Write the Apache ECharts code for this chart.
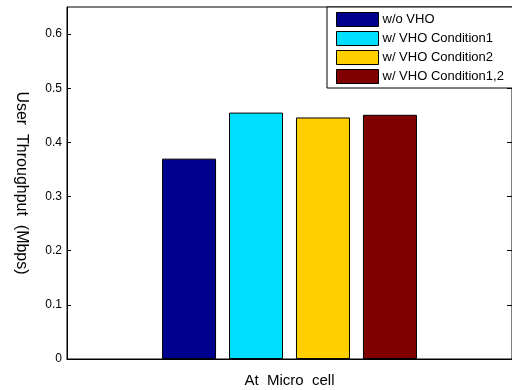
<!DOCTYPE html>
<html>
<head>
<meta charset="utf-8">
<script src="https://cdn.jsdelivr.net/npm/echarts@6/dist/echarts.min.js"></script>
<style>html,body{margin:0;padding:0;background:#fff;}#c{width:512px;height:390px;}</style>
</head>
<body>
<div id="c"></div>
<script>
const categories = ['At  Micro  cell'];
const seriesNames = ['w/o VHO', 'w/ VHO Condition1', 'w/ VHO Condition2', 'w/ VHO Condition1,2'];
const seriesColors = ['#00008f', '#00dfff', '#ffcf00', '#800000'];
const woVHO = [0.37];
const cond1 = [0.455];
const cond2 = [0.446];
const cond12 = [0.451];
const seriesValues = [woVHO, cond1, cond2, cond12];
const yTicks = {min: 0, max: 0.65, interval: 0.1};

const font = 'Liberation Sans, Arial, Helvetica, sans-serif';
const chart = echarts.init(document.getElementById('c'), null, {renderer: 'canvas'});
chart.setOption({
  animation: false,
  backgroundColor: '#fff',
  grid: {left: 67, top: 7, right: -1, bottom: 31, show: true, borderColor: '#000', borderWidth: 1, backgroundColor: 'transparent'},
  legend: {
    orient: 'vertical', left: 327, top: 7,
    padding: [5, 9, 4, 9], itemGap: 4, itemWidth: 42, itemHeight: 14,
    borderColor: '#000', borderWidth: 1, backgroundColor: '#fff',
    textStyle: {fontFamily: font, fontSize: 13, lineHeight: 14, color: '#000', padding: [0, 0, 0, -1]},
    itemStyle: {borderColor: '#000', borderWidth: 1},
    data: seriesNames, icon: 'rect'
  },
  xAxis: {
    type: 'category', data: categories,
    axisLine: {lineStyle: {color: '#000', width: 1}},
    axisTick: {inside: true, length: 5, lineStyle: {color: '#000'}, alignWithLabel: true},
    axisLabel: {color: '#000', fontFamily: font, fontSize: 15, margin: 14},
    splitLine: {show: false}
  },
  yAxis: [{
    type: 'value', min: yTicks.min, max: yTicks.max, interval: yTicks.interval,
    name: 'User  Throughput  (Mbps)', nameLocation: 'middle', nameGap: 38, nameRotate: -90,
    nameTextStyle: {color: '#000', fontFamily: font, fontSize: 16},
    axisLine: {show: true, lineStyle: {color: '#000', width: 1}},
    axisTick: {show: true, inside: true, length: 4, lineStyle: {color: '#000'}},
    axisLabel: {color: '#000', fontFamily: font, fontSize: 12, margin: 5, showMaxLabel: false},
    splitLine: {show: false}
  }, {
    type: 'value', position: 'right', min: yTicks.min, max: yTicks.max, interval: yTicks.interval,
    axisLine: {show: false},
    axisTick: {show: true, inside: true, length: 5, lineStyle: {color: '#000'}},
    axisLabel: {show: false},
    splitLine: {show: false}
  }],
  series: seriesNames.map((n, i) => ({
    name: n, type: 'bar', data: seriesValues[i],
    barWidth: 54, barGap: '24%',
    itemStyle: {color: seriesColors[i], borderColor: '#000', borderWidth: 1}
  }))
});
</script>
</body>
</html>
